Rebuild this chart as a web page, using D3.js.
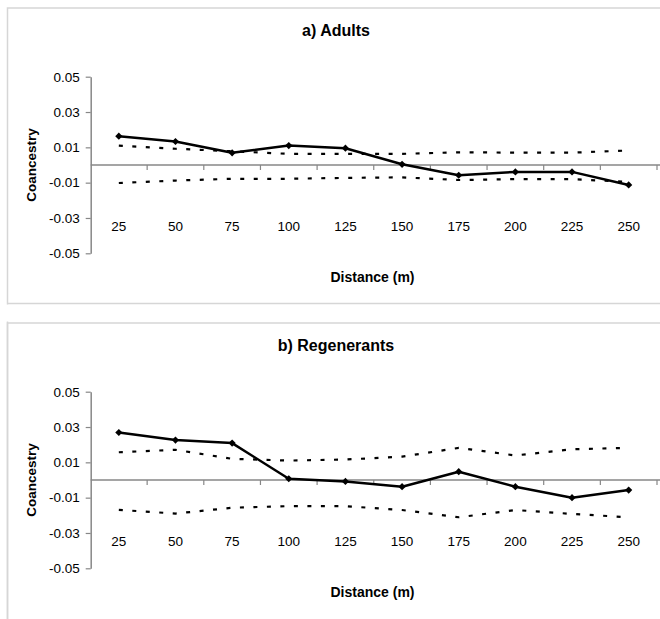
<!DOCTYPE html>
<html>
<head>
<meta charset="utf-8">
<script src="https://cdn.jsdelivr.net/npm/d3@7"></script>
<style>
  body { margin: 0; background: #fff; }
  text { font-family: Arial, "Liberation Sans", sans-serif; }
</style>
</head>
<body>
<div id="chart"></div>
<script>
// distance classes (m)
var distances = [25, 50, 75, 100, 125, 150, 175, 200, 225, 250];
var yTicks = [0.05, 0.03, 0.01, -0.01, -0.03, -0.05];
var yLabels = ["0.05", "0.03", "0.01", "-0.01", "-0.03", "-0.05"];
var panelTitles = ["a) Adults", "b) Regenerants"];

// observed coancestry and the 95% envelope
var adultsObs   = [0.0163, 0.0133, 0.0069, 0.0110, 0.0095, 0.0004, -0.0058, -0.0039, -0.0039, -0.0113];
var adultsUpper = [0.0110, 0.0092, 0.0078, 0.0063, 0.0063, 0.0063, 0.0072, 0.0070, 0.0070, 0.0082];
var adultsLower = [-0.0102, -0.0088, -0.0078, -0.0078, -0.0073, -0.0070, -0.0085, -0.0080, -0.0080, -0.0096];

var regenObs   = [0.0269, 0.0226, 0.0209, 0.0007, -0.0008, -0.0038, 0.0047, -0.0038, -0.0100, -0.0057];
var regenUpper = [0.0157, 0.0171, 0.0120, 0.0110, 0.0116, 0.0132, 0.0182, 0.0139, 0.0174, 0.0182];
var regenLower = [-0.0169, -0.0190, -0.0157, -0.0148, -0.0148, -0.0170, -0.0211, -0.0170, -0.0192, -0.0211];

var svgwidth = 660;
var svgheight = 619;
var axisGrey = "#878787";

var svg = d3.select("#chart").append("svg").attr("width", svgwidth).attr("height", svgheight);

var xscale = d3.scaleBand().domain(distances).range([90.5, 657]).padding(0);

function drawPanel(top, title, obs, upper, lower) {
    var g = svg.append("g").attr("transform", `translate(0, ${top})`);

    // frame
    g.append("rect").attr("x", 7.5).attr("y", 0).attr("width", 700).attr("height", 700)
        .attr("fill", "none").attr("stroke", "#d6d6d6").attr("stroke-width", 1.5);

    var yscale = d3.scaleLinear().domain([-0.05, 0.05]).range([245.3, 68.7]);

    // y axis
    var axisleft = d3.axisLeft(yscale).tickValues(yTicks).tickSize(5).tickSizeOuter(0).tickPadding(6)
        .tickFormat(function(d, i) { return yLabels[i]; });
    var ya = g.append("g").attr("transform", "translate(90.7, 0)").call(axisleft);
    ya.select(".domain").attr("stroke", axisGrey).attr("stroke-width", 1.5);
    ya.selectAll(".tick line").attr("stroke", axisGrey).attr("stroke-width", 1.2);
    ya.selectAll(".tick text").attr("font-size", "13.5px").attr("fill", "#000")
        .attr("font-family", "Arial, 'Liberation Sans', sans-serif");

    // category axis crossing at zero
    var y0 = yscale(0);
    g.append("line").attr("x1", 90.7).attr("x2", 700).attr("y1", y0).attr("y2", y0)
        .attr("stroke", axisGrey).attr("stroke-width", 1.5);
    g.selectAll(".cattick").data(distances).enter().append("line").attr("class", "cattick")
        .attr("x1", d => xscale(d) + xscale.bandwidth()).attr("x2", d => xscale(d) + xscale.bandwidth())
        .attr("y1", y0).attr("y2", y0 + 5).attr("stroke", axisGrey).attr("stroke-width", 1.2);
    g.selectAll(".catlabel").data(distances).enter().append("text").attr("class", "catlabel")
        .attr("x", d => xscale(d) + xscale.bandwidth() / 2).attr("y", 223)
        .attr("text-anchor", "middle").attr("font-size", "13.5px").text(d => d);

    // titles
    g.append("text").attr("x", 336).attr("y", 28).attr("text-anchor", "middle")
        .attr("font-size", "16px").attr("font-weight", "bold").text(title);
    g.append("text").attr("x", 372.5).attr("y", 273.7).attr("text-anchor", "middle")
        .attr("font-size", "14px").attr("font-weight", "bold").text("Distance (m)");
    g.append("text").attr("transform", `translate(36, ${y0}) rotate(-90)`).attr("text-anchor", "middle")
        .attr("font-size", "13.5px").attr("font-weight", "bold").text("Coancestry");

    var xc = function(d, i) { return xscale(distances[i]) + xscale.bandwidth() / 2; };
    var line = d3.line().x(xc).y(d => yscale(d));

    [upper, lower].forEach(function(env) {
        g.append("path").datum(env).attr("d", line).attr("fill", "none")
            .attr("stroke", "#000").attr("stroke-width", 2.2).attr("stroke-dasharray", "4,9.5");
    });

    g.append("path").datum(obs).attr("d", line).attr("fill", "none")
        .attr("stroke", "#000").attr("stroke-width", 2.5).attr("stroke-linejoin", "round");

    var diamond = d3.symbol().type(d3.symbolSquare).size(26);
    g.selectAll(".pt").data(obs).enter().append("path").attr("class", "pt")
        .attr("d", diamond)
        .attr("transform", (d, i) => `translate(${xc(d, i)}, ${yscale(d)}) rotate(45)`)
        .attr("fill", "#000");
}

drawPanel(8, panelTitles[0], adultsObs, adultsUpper, adultsLower);
// gap between the two panels, closing the first frame
svg.append("rect").attr("x", 0).attr("y", 304.5).attr("width", svgwidth).attr("height", 17).attr("fill", "#fff");
svg.append("line").attr("x1", 7.5).attr("x2", 700).attr("y1", 303.5).attr("y2", 303.5)
    .attr("stroke", "#d6d6d6").attr("stroke-width", 1.5);
drawPanel(323, panelTitles[1], regenObs, regenUpper, regenLower);
</script>
</body>
</html>
